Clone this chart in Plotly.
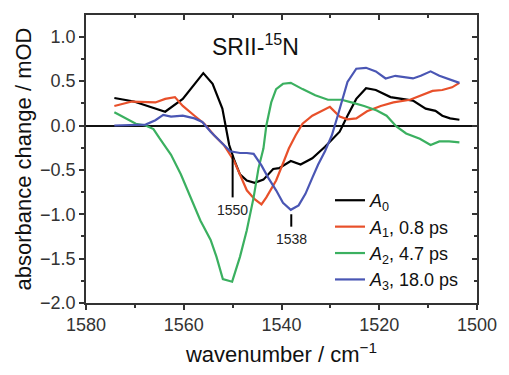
import plotly.graph_objects as go

# ---- data ----
w_a0 = [1574.2, 1570.2, 1563.8, 1560.2, 1556.0, 1554.1, 1552.1, 1550.7, 1549.6, 1548.5, 1547.1,
        1545.5, 1543.7, 1541.7, 1540.5, 1538.1, 1536.1, 1533.7, 1531.1, 1528.1, 1526.5, 1524.7,
        1522.7, 1520.7, 1517.7, 1515.1, 1513.1, 1510.5, 1508.5, 1507.1, 1505.5, 1503.6]
a0 = [0.31, 0.27, 0.155, 0.30, 0.59, 0.47, 0.19, -0.22, -0.40, -0.55, -0.62,
      -0.645, -0.61, -0.49, -0.48, -0.40, -0.44, -0.37, -0.24, -0.07, 0.11, 0.30,
      0.42, 0.40, 0.32, 0.30, 0.28, 0.19, 0.165, 0.11, 0.08, 0.065]

w_a1 = [1574.2, 1570.6, 1565.8, 1563.8, 1561.8, 1560.2, 1557.8, 1555.8, 1553.8, 1551.8, 1549.7,
        1549.1, 1547.1, 1545.5, 1544.1, 1543.1, 1541.1, 1539.5, 1538.5, 1537.1, 1535.7, 1533.7,
        1531.7, 1530.1, 1528.1, 1526.5, 1524.7, 1522.5, 1519.7, 1517.1, 1513.7, 1511.1, 1509.1,
        1507.1, 1505.1, 1503.6]
a1 = [0.22, 0.27, 0.26, 0.30, 0.32, 0.22, 0.11, 0.02, -0.11, -0.22, -0.40,
      -0.48, -0.73, -0.83, -0.89, -0.81, -0.62, -0.40, -0.26, -0.11, 0.02, 0.11,
      0.17, 0.21, 0.10, 0.07, 0.08, 0.16, 0.22, 0.26, 0.29, 0.35, 0.39,
      0.40, 0.43, 0.48]

w_a2 = [1574.2, 1571.8, 1569.8, 1567.8, 1566.2, 1565.0, 1563.4, 1562.6, 1560.6, 1558.6, 1556.6, 1554.5,
        1553.3, 1552.0, 1550.1, 1548.5, 1547.1, 1545.7, 1544.7, 1543.7, 1543.1, 1542.1, 1541.1,
        1539.7, 1538.1, 1535.7, 1533.1, 1530.5, 1527.7, 1525.7, 1523.1, 1520.5, 1518.5, 1516.5,
        1514.5, 1511.7, 1509.5, 1507.7, 1505.7, 1503.6]
a2 = [0.15, 0.08, 0.02, 0.0, -0.04, -0.14, -0.26, -0.33, -0.55, -0.81, -1.07, -1.29,
      -1.48, -1.73, -1.76, -1.48, -1.18, -0.81, -0.48, -0.26, 0.0, 0.26, 0.41,
      0.47, 0.48, 0.41, 0.34, 0.29, 0.29, 0.26, 0.22, 0.17, 0.11, -0.01,
      -0.09, -0.15, -0.22, -0.18, -0.18, -0.19]

w_a3 = [1574.2, 1567.8, 1565.8, 1564.2, 1562.6, 1560.2, 1557.8, 1556.2, 1554.5, 1552.5, 1550.5,
        1548.5, 1547.1, 1545.7, 1544.1, 1542.7, 1541.1, 1539.7, 1538.1, 1536.5, 1535.1, 1533.7,
        1532.5, 1531.1, 1529.7, 1528.5, 1526.5, 1524.7, 1522.7, 1520.7, 1518.7, 1516.7, 1515.1,
        1513.1, 1511.5, 1509.5, 1507.7, 1505.7, 1503.6]
a3 = [0.0, 0.01, 0.06, 0.12, 0.10, 0.11, 0.08, 0.04, -0.07, -0.18, -0.29,
      -0.31, -0.31, -0.32, -0.45, -0.59, -0.73, -0.87, -0.95, -0.90, -0.77, -0.59,
      -0.44, -0.29, -0.11, 0.11, 0.49, 0.64, 0.65, 0.61, 0.53, 0.56, 0.55,
      0.53, 0.56, 0.61, 0.56, 0.52, 0.48]

series_names = ["<i>A</i><sub>0</sub>", "<i>A</i><sub>1</sub>, 0.8 ps",
                "<i>A</i><sub>2</sub>, 4.7 ps", "<i>A</i><sub>3</sub>, 18.0 ps"]
series_colors = ["#000000", "#e8502a", "#3bb060", "#4a56b4"]

peak_pos = [1550, 1538]
peak_labels = ["1550", "1538"]
peak_line_top = [-0.34, -1.0]
peak_line_bottom = [-0.81, -1.14]
peak_label_y = [-0.95, -1.28]

x_range = [1580, 1500]
y_range = [-2.0, 1.245]

FONT = "Arial, Liberation Sans, sans-serif"
AX = "#333"

fig = go.Figure()
for xs, ys, name, col in zip([w_a0, w_a1, w_a2, w_a3], [a0, a1, a2, a3], series_names, series_colors):
    fig.add_trace(go.Scatter(x=xs, y=ys, mode="lines", name=name,
                             line=dict(color=col, width=2.2)))

# dummy trace for mirrored axes
fig.add_trace(go.Scatter(x=[None], y=[None], xaxis="x2", yaxis="y2",
                         showlegend=False, hoverinfo="skip"))

for px, lab, yt, yb, yl in zip(peak_pos, peak_labels, peak_line_top, peak_line_bottom, peak_label_y):
    fig.add_shape(type="line", x0=px, x1=px, y0=yt, y1=yb, xref="x", yref="y",
                  line=dict(color="black", width=2))
    fig.add_annotation(x=px, y=yl, text=lab, showarrow=False, xref="x", yref="y",
                       font=dict(size=14, color="#222", family=FONT))

fig.add_annotation(x=0.316, y=0.895, xref="paper", yref="paper", xanchor="left", yanchor="middle",
                   text="SRII-<sup>15</sup>N", showarrow=False,
                   font=dict(size=23, color="#111", family=FONT))

axis_common = dict(showline=True, linecolor=AX, linewidth=1.5, showgrid=False,
                   ticklen=5, tickwidth=1.5, tickcolor=AX,
                   tickfont=dict(size=18, color="#333", family=FONT))

fig.update_layout(
    width=509, height=375,
    margin=dict(l=86, r=24, t=15, b=68),
    paper_bgcolor="white", plot_bgcolor="white",
    font=dict(family=FONT, color="#111"),
    xaxis=dict(range=x_range, dtick=20, ticks="outside", zeroline=False,
               minor=dict(dtick=10, ticks="outside", ticklen=3, tickwidth=1.5, tickcolor=AX),
               title=dict(text="wavenumber / cm<sup>−1</sup>", font=dict(size=22, family=FONT, color="#111"),
                          standoff=12),
               **axis_common),
    yaxis=dict(range=y_range, dtick=0.5, tickformat=".1f", ticks="outside",
               zeroline=True, zerolinecolor="#111", zerolinewidth=1.5,
               minor=dict(dtick=0.25, ticks="outside", ticklen=3, tickwidth=1.5, tickcolor=AX),
               title=dict(text="absorbance change / mOD", font=dict(size=22, family=FONT, color="#111"),
                          standoff=2),
               **axis_common),
    xaxis2=dict(range=x_range, overlaying="x", side="top", anchor="y2", dtick=20, ticks="inside",
                showticklabels=False, showline=True, linecolor=AX, linewidth=1.5, showgrid=False,
                zeroline=False, ticklen=5, tickwidth=1.5, tickcolor=AX,
                minor=dict(dtick=10, ticks="inside", ticklen=3, tickwidth=1.5, tickcolor=AX)),
    yaxis2=dict(range=y_range, overlaying="y", side="right", anchor="x2", dtick=0.5, ticks="inside",
                showticklabels=False, showline=True, linecolor=AX, linewidth=1.5, showgrid=False,
                zeroline=False, ticklen=5, tickwidth=1.5, tickcolor=AX,
                minor=dict(dtick=0.25, ticks="inside", ticklen=3, tickwidth=1.5, tickcolor=AX)),
    legend=dict(x=0.624, y=0.42, xanchor="left", yanchor="top", bgcolor="rgba(0,0,0,0)",
                font=dict(size=18, family=FONT, color="#111"), tracegroupgap=0),
    showlegend=True,
)

fig.write_html("out.html")
